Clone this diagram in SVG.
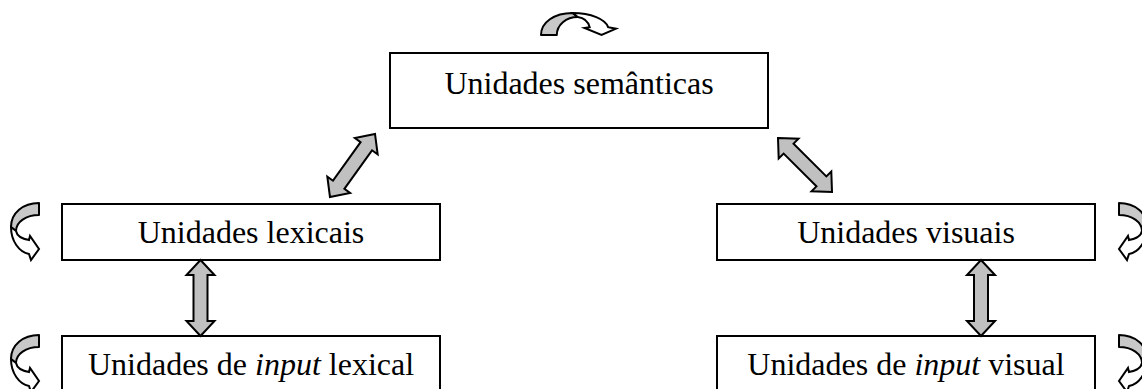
<svg xmlns="http://www.w3.org/2000/svg" width="1142" height="389" viewBox="0 0 1142 389">
<style>
.box{fill:#fff;stroke:#000;stroke-width:2}
.lbl{font-family:"Liberation Serif","Times New Roman",serif;font-size:32px;fill:#000;text-anchor:middle}
.blk{fill:#c0c0c0;stroke:#000;stroke-width:2;stroke-linejoin:miter}
.cg{fill:#c8c8c8;stroke:#000;stroke-width:2;stroke-linejoin:round}
.cw{fill:#fff;stroke:#000;stroke-width:2;stroke-linejoin:miter}
</style>
<defs>
<g id="curl">
<path class="cg" vector-effect="non-scaling-stroke" d="M28,0 C12,0 0,10 0,24 L5,28 C5,19 15,12 28,12 Z"/>
<path class="cw" vector-effect="non-scaling-stroke" d="M0,24 C0,38 8,49 18,51 L20,57 L28,46 L19,33 L18,37 C12,36 6,33 5,28 Z"/>
</g>
</defs>
<rect width="1142" height="389" fill="#fff"/>
<g id="n-semanticas">
<rect class="box" x="390" y="53" width="378" height="75"/>
<text class="lbl" x="579" y="94">Unidades semânticas</text>
</g>
<g id="n-lexicais">
<rect class="box" x="62" y="204" width="378" height="56"/>
<text class="lbl" x="251" y="243">Unidades lexicais</text>
</g>
<g id="n-visuais">
<rect class="box" x="717" y="204" width="378" height="56"/>
<text class="lbl" x="906" y="243">Unidades visuais</text>
</g>
<g id="n-input-lexical">
<rect class="box" x="62" y="336" width="378" height="70"/>
<text class="lbl" x="251" y="375">Unidades de <tspan font-style="italic">input</tspan> lexical</text>
</g>
<g id="n-input-visual">
<rect class="box" x="717" y="336" width="378" height="70"/>
<text class="lbl" x="906" y="375">Unidades de <tspan font-style="italic">input</tspan> visual</text>
</g>
<g id="connectors">
<polygon class="blk" transform="translate(352.5,165.5) rotate(35.6)" points="0,-38.7 14,-23.7 7,-23.7 7,23.7 14,23.7 0,38.7 -14,23.7 -7,23.7 -7,-23.7 -14,-23.7"/>
<polygon class="blk" transform="translate(805,165) rotate(-45)" points="0,-38.2 14,-23.2 7,-23.2 7,23.2 14,23.2 0,38.2 -14,23.2 -7,23.2 -7,-23.2 -14,-23.2"/>
<polygon class="blk" transform="translate(200.5,298)" points="0,-38 14,-23 7,-23 7,23 14,23 0,38 -14,23 -7,23 -7,-23 -14,-23"/>
<polygon class="blk" transform="translate(981,298)" points="0,-38 14,-23 7,-23 7,23 14,23 0,38 -14,23 -7,23 -7,-23 -14,-23"/>
</g>
<g id="loops">
<use href="#curl" transform="matrix(0,0.786,1.316,0,541,13)"/>
<use href="#curl" transform="translate(11,203)"/>
<use href="#curl" transform="translate(11,335)"/>
<use href="#curl" transform="translate(1147,203) scale(-1,1)"/>
<use href="#curl" transform="translate(1147,335) scale(-1,1)"/>
</g>
</svg>
